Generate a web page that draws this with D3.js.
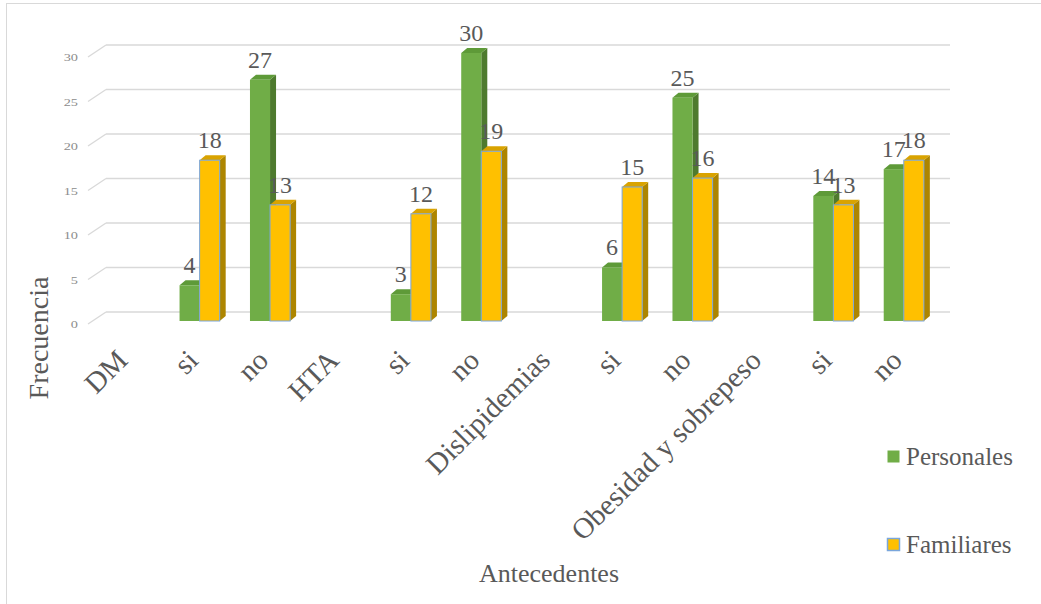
<!DOCTYPE html>
<html><head><meta charset="utf-8">
<script src="https://cdn.jsdelivr.net/npm/d3@7"></script>
<style>body{margin:0;background:#fff}svg{display:block}text{font-family:"Liberation Serif","Times New Roman",serif;fill:#595959}</style>
</head><body><svg id="c" width="1041" height="604"></svg>
<script>
const categories = ["DM","si","no","HTA","si","no","Dislipidemias","si","no","Obesidad y sobrepeso","si","no"];
const personales = [null,4,27,null,3,30,null,6,25,null,14,17];
const familiares = [null,18,13,null,12,19,null,15,16,null,13,18];
const seriesNames = ["Personales","Familiares"];
const yTicks = [0,5,10,15,20,25,30];

const svg = d3.select("#c");
svg.append("rect").attr("x",6.5).attr("y",3.5).attr("width",1100).attr("height",700).attr("fill","none").attr("stroke","#d9d9d9");

const x = d3.scaleBand().domain(d3.range(categories.length)).range([94,939]).paddingInner(0.43).paddingOuter(0.215);
const xs = d3.scaleBand().domain(seriesNames).range([0,x.bandwidth()]);
const y = d3.scaleLinear().domain([0,30]).range([321,53]);
const yBack = d3.scaleLinear().domain([0,30]).range([312,45]);
const yFront = d3.scaleLinear().domain([0,30]).range([324,57]);

// grid
const g = svg.append("g");
yTicks.forEach(t=>{
  g.append("line").attr("x1",106).attr("x2",950).attr("y1",yBack(t)).attr("y2",yBack(t)).attr("stroke","#d9d9d9").attr("stroke-width",1.3);
  g.append("line").attr("x1",88).attr("x2",106).attr("y1",yFront(t)).attr("y2",yBack(t)).attr("stroke","#d9d9d9").attr("stroke-width",1.3);
  g.append("text").attr("transform",`translate(78,${yFront(t)+4}) scale(1.3,1)`).attr("text-anchor","end").attr("font-size",11).style("fill","#8c8c8c").text(t);
});

const dx = 6, dy = 5;
const styles = {
  Personales:{front:"#70ad47",top:"#5e9a38",side:"#4e7a2e",stroke:"none"},
  Familiares:{front:"#ffc000",top:"#d9a300",side:"#ad8500",stroke:"#7aa6dc"}
};
const bars = svg.append("g");
const labels = svg.append("g");
categories.forEach((c,i)=>{
  [[personales,"Personales"],[familiares,"Familiares"]].forEach(([vals,name])=>{
    const v = vals[i]; if(v==null) return;
    const x0 = x(i)+xs(name), w = xs.bandwidth(), y0 = y(v), yb = y(0);
    const st = styles[name];
    const bg = bars.append("g");
    bg.append("path").attr("d",`M${x0+w},${y0}L${x0+w+dx},${y0-dy}L${x0+w+dx},${yb-dy}L${x0+w},${yb}Z`).attr("fill",st.side);
    bg.append("path").attr("d",`M${x0},${y0}L${x0+dx},${y0-dy}L${x0+w+dx},${y0-dy}L${x0+w},${y0}Z`).attr("fill",st.top);
    bg.append("rect").attr("x",x0).attr("y",y0).attr("width",w).attr("height",yb-y0).attr("fill",st.front).attr("stroke",st.stroke).attr("stroke-width",1);
    labels.append("text").attr("x",x0+w/2).attr("y",y0-12).attr("text-anchor","middle").attr("font-size",24).text(v);
  });
});

// x labels
categories.forEach((c,i)=>{
  svg.append("text").attr("transform",`translate(${x(i)+x.bandwidth()/2},362) rotate(-45)`).attr("text-anchor","end").attr("font-size",29).text(c);
});

svg.append("text").attr("transform","translate(48,338) rotate(-90)").attr("text-anchor","middle").attr("font-size",28).text("Frecuencia");
svg.append("text").attr("x",549).attr("y",582).attr("text-anchor","middle").attr("font-size",26).text("Antecedentes");

const leg = [["Personales",465],["Familiares",553]];
leg.forEach(([n,yy])=>{
  svg.append("rect").attr("x",887.5).attr("y",yy-14.5).attr("width",12).attr("height",12).attr("fill",styles[n].front).attr("stroke",n==="Familiares"?"#7aa6dc":"none").attr("stroke-width",1.5);
  svg.append("text").attr("x",906).attr("y",yy).attr("font-size",25).text(n);
});
</script></body></html>
